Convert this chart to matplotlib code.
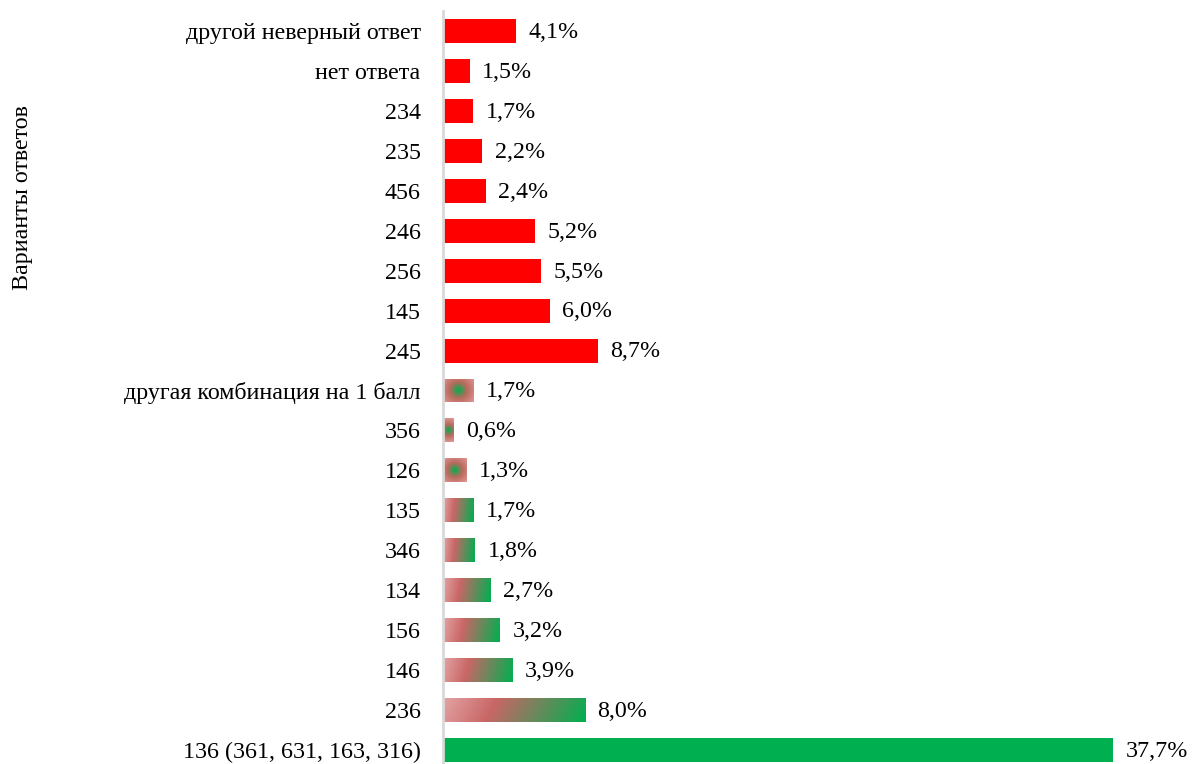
import matplotlib
matplotlib.use('Agg')
import matplotlib.pyplot as plt
import numpy as np
from matplotlib.colors import LinearSegmentedColormap

# Data (bottom to top)
categories = ['136 (361, 631, 163, 316)', '236', '146', '156', '134', '346', '135',
              '126', '356', 'другая комбинация на 1 балл',
              '245', '145', '256', '246', '456', '235', '234', 'нет ответа',
              'другой неверный ответ']
values = [37.7, 8.0, 3.9, 3.2, 2.7, 1.8, 1.7,
          1.3, 0.6, 1.7,
          8.7, 6.0, 5.5, 5.2, 2.4, 2.2, 1.7, 1.5,
          4.1]
# fill kind: 'green' full score, 'linear'/'radial' partial, 'red' wrong
kinds = ['green', 'linear', 'linear', 'linear', 'linear', 'linear', 'linear',
         'radial', 'radial', 'radial',
         'red', 'red', 'red', 'red', 'red', 'red', 'red', 'red', 'red']

plt.rcParams['font.family'] = ['Liberation Serif', 'DejaVu Serif']

lin_cmap = LinearSegmentedColormap.from_list(
    'lin', [(0, '#E3A3A3'), (0.35, '#C96666'), (1, '#00AF50')])
rad_cmap = LinearSegmentedColormap.from_list(
    'rad', [(0, '#00AF50'), (0.45, '#B86A5C'), (1, '#E09494')])

fig = plt.figure(figsize=(11.92, 7.64), dpi=100)
ax = fig.add_axes([0.3716, 0.0, 0.562, 0.9856])

ypos = np.arange(len(categories))
h = 0.6
bars = ax.barh(ypos, values, height=h, color='none', edgecolor='none')

px_per_unit = 670 / 37.7
for bar, v, k, y in zip(bars, values, kinds, ypos):
    if k == 'red':
        bar.set_facecolor('#FF0000')
    elif k == 'green':
        bar.set_facecolor('#00B050')
    else:
        wpx = max(int(v * px_per_unit), 4)
        hpx = 24
        xx, yy = np.meshgrid(np.linspace(0, 1, wpx), np.linspace(0, 1, hpx))
        if k == 'linear':
            t = np.clip(xx * 0.92 + yy * 0.08, 0, 1)
            img = lin_cmap(t)
        else:
            dx = (xx - 0.5) * wpx
            dy = (yy - 0.5) * hpx
            d = np.sqrt(dx ** 2 + dy ** 2)
            t = d / d.max()
            img = rad_cmap(t)
        im = ax.imshow(img, extent=[0, v, y - h / 2, y + h / 2], aspect='auto',
                       interpolation='bilinear', origin='upper', zorder=2)
        im.set_clip_path(bar)

for v, y in zip(values, ypos):
    ax.annotate(f'{v:.1f}%'.replace('.', ','), xy=(v, y), xytext=(9, -1),
                textcoords='offset points', va='center', ha='left',
                fontsize=17.3, annotation_clip=False)

ax.set_xlim(0, 37.7)
ax.set_ylim(-0.35, 18.5)
ax.set_yticks(ypos)
ax.set_yticklabels(categories, fontsize=17.3)
ax.tick_params(axis='y', length=0, pad=16)
ax.set_xticks([])
for s in ['top', 'right', 'bottom']:
    ax.spines[s].set_visible(False)
ax.spines['left'].set_color('#D9D9D9')
ax.spines['left'].set_linewidth(2)
ax.spines['left'].set_zorder(5)

fig.text(0.0185, 0.741, 'Варианты ответов', rotation=90, va='center', ha='center',
         fontsize=17.3)

fig.savefig('out.png', dpi=100)
